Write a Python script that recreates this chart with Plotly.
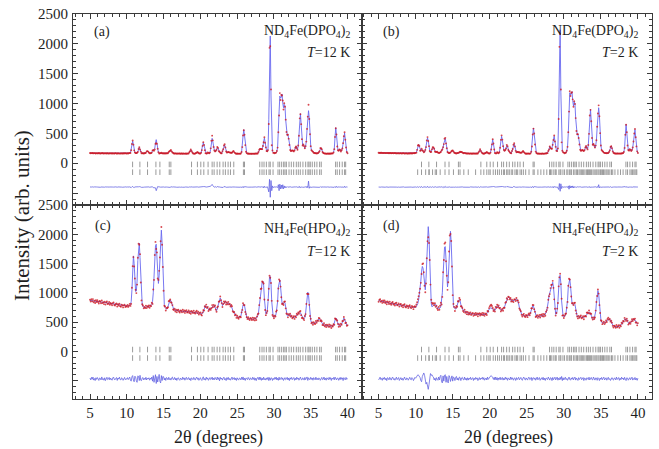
import numpy as np
import plotly.graph_objects as go

# ---------------------------------------------------------------------------
# Neutron powder diffraction, 2theta = 5.0 ... 40.0 deg in 0.1 deg steps.
# CALC_* : calculated (Rietveld) profile, RES_* : observed - calculated.
# ---------------------------------------------------------------------------
START, STEP = 5.0, 0.1

CALC_A = [
    170, 169, 169, 168, 168, 168, 167, 168, 168, 167,
    167, 167, 168, 167, 167, 166, 167, 167, 166, 166,
    166, 166, 166, 165, 166, 166, 165, 165, 166, 165,
    165, 165, 165, 165, 164, 165, 165, 164, 164, 165,
    164, 164, 164, 165, 164, 164, 164, 165, 165, 165,
    165, 165, 166, 168, 170, 177, 225, 315, 370, 315,
    225, 178, 170, 170, 172, 193, 234, 260, 234, 193,
    172, 166, 165, 165, 166, 170, 177, 194, 205, 194,
    177, 168, 166, 169, 182, 210, 227, 223, 249, 337,
    395, 333, 232, 179, 167, 166, 170, 172, 168, 165,
    164, 164, 164, 165, 165, 166, 171, 183, 200, 214,
    216, 200, 180, 168, 165, 164, 163, 163, 163, 162,
    162, 162, 162, 161, 161, 161, 161, 161, 161, 161,
    160, 160, 160, 161, 165, 180, 208, 226, 208, 180,
    165, 161, 160, 161, 167, 178, 185, 178, 167, 162,
    162, 172, 214, 295, 345, 295, 214, 172, 162, 163,
    178, 175, 166, 175, 234, 346, 417, 358, 263, 215,
    195, 200, 231, 262, 252, 206, 191, 179, 167, 163,
    197, 239, 288, 307, 261, 201, 177, 183, 190, 182,
    180, 177, 173, 176, 189, 200, 189, 172, 162, 160,
    160, 160, 160, 160, 160, 163, 185, 276, 452, 562,
    470, 300, 195, 168, 162, 160, 160, 159, 159, 159,
    159, 159, 159, 160, 160, 161, 161, 162, 167, 185,
    220, 245, 236, 230, 241, 279, 364, 420, 350, 260,
    208, 193, 250, 737, 1803, 2131, 1127, 360, 195, 184,
    172, 168, 170, 178, 200, 270, 480, 860, 1125, 1090,
    1110, 1160, 1010, 930, 985, 960, 720, 530, 470, 480,
    410, 300, 225, 200, 210, 215, 205, 200, 215, 255,
    285, 250, 230, 290, 470, 740, 830, 650, 400, 300,
    310, 290, 250, 280, 370, 560, 790, 880, 760, 480,
    290, 215, 205, 190, 175, 170, 168, 166, 166, 167,
    170, 180, 205, 245, 258, 230, 190, 170, 164, 162,
    161, 160, 160, 160, 160, 160, 160, 161, 162, 163,
    166, 178, 240, 430, 595, 470, 285, 215, 210, 230,
    220, 200, 215, 250, 330, 460, 505, 400, 260, 190,
    165,
]
RES_A = [
    2, -3, 1, 4, -2, 0, 3, -1, -4, 2,
    1, -2, 3, 0, -3, 2, -1, 4, -2, 1,
    -1, 3, -2, 1, 2, -4, 0, 2, -1, 3,
    -2, 1, 0, -3, 2, 4, -1, -2, 3, 0,
    1, -3, 2, 0, -2, 3, -1, 1, 4, -2,
    0, 2, -3, 1, 4, -5, -8, 6, 10, -4,
    -9, 3, 2, -1, 4, -6, 5, 8, -3, 2,
    -4, 1, 3, -2, 0, 2, -3, 5, -2, 1,
    3, -2, 1, 0, -4, 6, -10, -14, -20, -12,
    -60, -8, 10, 6, -3, 2, -1, 3, -2, 0,
    2, -1, 3, -2, 1, 0, -3, 4, 2, -5,
    6, -2, 1, 3, -1, -2, 2, 0, -3, 1,
    -1, 2, 0, -2, 3, 1, -3, 2, 0, -1,
    2, -1, 3, 0, -2, 4, -6, 5, -3, 1,
    0, 2, -3, 1, 4, -2, 3, -1, 0, 2,
    -1, 3, 6, -5, 8, 10, 4, -3, 1, 2,
    4, -2, 0, 3, 15, 30, 45, 25, 10, -2,
    3, 7, -4, 10, 4, -3, 2, -1, 0, 3,
    5, -6, 9, 12, 4, -3, 1, 2, -2, 0,
    1, -2, 3, -1, 2, 5, -3, 1, 0, -2,
    2, -1, 1, 0, -2, 1, 3, -6, 12, -10,
    8, 4, -3, 2, 0, -1, 2, -2, 1, 0,
    -1, 2, 1, -2, 0, 3, -1, 2, -3, 4,
    6, -4, 3, 8, -5, 10, -12, 14, -8, 5,
    -4, 6, -30, -80, 130, -170, 110, -60, 20, -10,
    3, -2, 4, 0, 5, -8, 40, -60, 50, -30,
    35, -25, 40, -30, 20, -15, 10, -6, 8, -4,
    2, 5, -3, 4, -2, 1, 3, -2, 0, 4,
    -3, 6, -4, 8, -10, 12, -8, 5, 3, -2,
    4, -3, 2, 6, -8, 15, -10, 100, -20, 6,
    -4, 3, -2, 1, 0, 2, -1, 3, -2, 1,
    0, 3, -4, 8, -6, 3, -2, 1, 2, -1,
    1, -2, 0, 3, -1, 2, -2, 1, 0, 2,
    -1, 3, -4, 10, -8, 12, -5, 3, -2, 1,
    2, -3, 4, -2, 6, -8, 15, -5, 3, -2,
    1,
]

CALC_B = [
    175, 174, 174, 173, 173, 173, 172, 172, 172, 171,
    171, 171, 171, 170, 170, 170, 170, 169, 169, 169,
    169, 169, 168, 168, 168, 168, 168, 167, 167, 167,
    167, 167, 167, 166, 166, 166, 166, 166, 165, 165,
    165, 165, 165, 165, 165, 165, 166, 167, 168, 170,
    172, 180, 220, 290, 312, 280, 215, 210, 235, 225,
    200, 185, 190, 215, 280, 370, 423, 380, 280, 210,
    185, 195, 230, 262, 268, 240, 200, 185, 190, 190,
    180, 172, 172, 178, 190, 210, 235, 260, 330, 405,
    413, 340, 245, 190, 175, 170, 172, 180, 198, 210,
    212, 198, 180, 170, 166, 166, 168, 170, 175, 182,
    188, 190, 186, 178, 172, 170, 172, 170, 166, 164,
    163, 163, 162, 162, 162, 162, 162, 162, 162, 162,
    161, 161, 161, 162, 166, 181, 209, 228, 209, 181,
    166, 162, 161, 162, 168, 178, 185, 178, 167, 163,
    163, 175, 225, 320, 395, 320, 225, 175, 164, 165,
    180, 177, 168, 180, 250, 380, 452, 385, 280, 225,
    205, 215, 250, 298, 280, 225, 200, 185, 170, 165,
    200, 245, 300, 322, 275, 210, 182, 186, 192, 184,
    182, 178, 174, 178, 190, 200, 190, 173, 163, 161,
    161, 161, 161, 161, 161, 164, 188, 285, 470, 590,
    490, 310, 198, 170, 163, 161, 161, 160, 160, 160,
    160, 160, 160, 161, 161, 162, 163, 165, 172, 200,
    225, 284, 250, 238, 250, 300, 400, 452, 370, 270,
    212, 198, 262, 780, 1890, 2236, 1180, 375, 200, 188,
    175, 170, 172, 180, 205, 280, 500, 900, 1180, 1140,
    1160, 1200, 1050, 960, 1030, 1000, 750, 545, 480, 490,
    420, 310, 230, 205, 215, 220, 210, 205, 220, 262,
    290, 255, 235, 300, 500, 790, 900, 700, 420, 310,
    320, 300, 260, 290, 390, 600, 840, 930, 800, 500,
    300, 220, 205, 190, 178, 172, 170, 168, 168, 169,
    172, 185, 215, 265, 290, 250, 200, 175, 166, 164,
    163, 162, 162, 162, 162, 162, 162, 163, 164, 166,
    170, 185, 260, 470, 650, 510, 300, 220, 212, 232,
    222, 205, 220, 265, 360, 505, 562, 440, 280, 200,
    170,
]
RES_B = [
    1, -2, 3, -1, 2, 0, -3, 2, 1, -2,
    3, -1, 0, 2, -3, 1, 2, -2, 0, 3,
    -2, 1, 3, -1, 0, -3, 2, 1, -2, 0,
    2, -3, 1, 0, 3, -2, -1, 2, 0, -1,
    -1, 2, -2, 3, 1, -3, 0, 2, -1, 1,
    2, -3, 4, 6, -5, 8, -6, 4, 10, -8,
    5, -3, 6, 8, -10, 12, 15, -8, 6, -4,
    3, -5, 4, 6, -3, 2, -4, 5, -2, 1,
    -2, 3, -1, 4, -2, 5, -6, 8, -10, 6,
    12, -8, 5, -3, 2, -1, 3, -2, 1, 0,
    2, -1, -3, 2, 1, -2, 3, 0, -1, 2,
    4, -2, 1, 3, -1, -2, 2, 0, -3, 1,
    -1, 2, 0, -2, 3, 1, -3, 2, 0, -1,
    2, -1, 3, 0, -2, 4, -6, 5, -3, 1,
    0, 2, -3, 1, 4, -2, 3, -1, 0, 2,
    -1, 3, 6, -5, 8, 10, 4, -3, 1, 2,
    4, -2, 0, 3, 8, 12, 15, 10, 6, -2,
    3, 7, -4, 10, 4, -3, 2, -1, 0, 3,
    5, -6, 9, 12, 4, -3, 1, 2, -2, 0,
    1, -2, 3, -1, 2, 5, -3, 1, 0, -2,
    2, -1, 1, 0, -2, 1, 3, -6, 12, -10,
    8, 4, -3, 2, 0, -1, 2, -2, 1, 0,
    -1, 2, 1, -2, 0, 3, -1, 2, -3, 4,
    4, -3, 5, 6, -8, 8, -10, 12, -6, 4,
    -3, 5, -15, -40, 60, -70, 55, -25, 10, -5,
    3, -2, 4, 0, 5, -6, 20, -35, 25, -15,
    18, -12, 20, -15, 10, -8, 6, -4, 5, -3,
    2, 4, -3, 3, -2, 1, 3, -2, 0, 3,
    -2, 5, -3, 6, -8, 10, -6, 4, 2, -1,
    3, -2, 2, 5, -6, 10, -8, 40, -12, 4,
    -3, 2, -1, 1, 0, 2, -1, 2, -1, 1,
    0, 2, -3, 6, -4, 2, -1, 1, 2, -1,
    1, -2, 0, 2, -1, 2, -1, 1, 0, 1,
    -1, 2, -3, 8, -6, 10, -4, 2, -1, 1,
    1, -2, 3, -1, 5, -6, 12, -4, 2, -1,
    1,
]

CALC_C = [
    870, 868, 866, 864, 862, 860, 858, 856, 854, 852,
    850, 848, 846, 844, 842, 840, 838, 836, 834, 832,
    830, 828, 826, 824, 822, 820, 818, 816, 814, 812,
    810, 808, 806, 803, 800, 798, 795, 793, 790, 788,
    786, 784, 782, 780, 778, 776, 775, 774, 773, 772,
    772, 772, 773, 775, 780, 800, 850, 1050, 1400, 1630,
    1500, 1200, 1020, 1030, 1200, 1550, 1800, 1850, 1600, 1200,
    900, 790, 760, 752, 750, 752, 755, 758, 760, 762,
    765, 768, 772, 780, 800, 850, 1000, 1280, 1600, 1800,
    1830, 1650, 1300, 1160, 1300, 1650, 1950, 2070, 1850, 1400,
    1000, 800, 750, 725, 720, 730, 770, 830, 875, 880,
    860, 810, 760, 730, 712, 705, 700, 698, 696, 694,
    692, 690, 688, 686, 685, 684, 683, 682, 681, 680,
    679, 678, 677, 676, 675, 674, 673, 672, 671, 670,
    669, 668, 667, 666, 665, 664, 662, 660, 655, 650,
    645, 640, 642, 650, 670, 715, 765, 780, 770, 750,
    740, 715, 705, 710, 722, 740, 760, 775, 782, 780,
    760, 720, 695, 720, 780, 830, 890, 910, 880, 810,
    780, 800, 825, 845, 850, 830, 815, 815, 820, 820,
    805, 790, 775, 740, 700, 670, 650, 635, 620, 600,
    590, 580, 578, 578, 585, 600, 640, 720, 790, 810,
    780, 700, 620, 580, 565, 560, 558, 555, 553, 552,
    551, 550, 550, 550, 552, 556, 565, 580, 610, 660,
    760, 930, 1040, 1100, 1180, 1200, 1130, 900, 700, 640,
    640, 700, 850, 1100, 1270, 1280, 1150, 850, 650, 590,
    580, 585, 600, 650, 720, 850, 1100, 1200, 1220, 1100,
    900, 820, 800, 820, 840, 830, 750, 650, 610, 600,
    620, 640, 625, 600, 585, 580, 578, 578, 580, 590,
    600, 615, 630, 650, 665, 670, 660, 630, 590, 560,
    550, 555, 580, 650, 800, 950, 1010, 960, 800, 620,
    530, 490, 480, 478, 478, 480, 485, 490, 500, 520,
    540, 552, 556, 545, 520, 490, 465, 455, 450, 445,
    442, 440, 438, 436, 434, 432, 430, 428, 426, 425,
    430, 440, 470, 530, 565, 560, 510, 460, 445, 440,
    440, 445, 460, 500, 550, 567, 545, 500, 465, 445,
    440,
]
RES_C = [
    12, -18, 25, -8, 30, -22, 5, -30, 18, -10,
    22, -5, -28, 15, 8, -20, 32, -12, 4, -25,
    18, -30, 10, 26, -14, -6, 24, -20, 12, -2,
    -24, 16, 30, -10, -18, 8, 22, -28, 14, -6,
    28, -12, -20, 18, 6, -26, 10, 24, -16, 2,
    -8, 20, -14, 6, 30, -24, -40, 35, 55, -20,
    -50, 45, 30, -35, -60, 50, 40, -30, 60, -25,
    -30, 15, 22, -18, 8, -12, 26, -20, 10, -4,
    18, -24, 12, -8, 30, -40, 55, -60, 45, 70,
    -80, 40, -55, 60, 75, -45, -70, 55, -30, 40,
    35, -20, 15, -28, 22, 10, -18, 26, -12, 6,
    -22, 18, 30, -14, -6, 24, -20, 12, -28, 8,
    20, -10, -26, 14, 4, -18, 28, -8, 16, -24,
    10, 26, -14, -4, 22, -20, 8, -30, 18, 2,
    -16, 24, -8, -22, 12, 30, -10, 16, -26, 6,
    20, -12, -28, 14, 34, -18, 6, -24, 28, -8,
    16, -26, 10, 22, -14, -4, 30, -20, 12, -16,
    24, -8, -20, 30, -12, 18, -34, 26, -6, 14,
    -22, 8, 28, -16, 4, -30, 20, -10, 24, -18,
    6, -24, 16, 30, -14, -4, 22, -20, 10, -28,
    18, -6, -22, 14, 8, -18, 26, -12, 32, -20,
    10, -28, 16, 4, -14, 24, -8, -22, 18, 6,
    -16, 26, -10, 20, -24, 8, -30, 14, 22, -12,
    30, -18, 24, -26, 12, -20, 28, -14, 6, -22,
    16, -10, 26, -30, 20, -24, 18, 12, -28, 8,
    -14, 22, -6, 30, -20, 10, -26, 28, -18, 6,
    24, -12, 16, -28, 8, 20, -16, -4, 26, -20,
    12, -30, 18, -8, 24, -14, 4, 22, -26, 10,
    -18, 28, -6, 14, -24, 8, 30, -12, -20, 16,
    6, -22, 24, -14, 10, 32, -28, 18, -6, -16,
    26, -10, 14, -24, 20, -4, -18, 28, -12, 8,
    -20, 16, 6, -26, 12, 24, -14, -8, 30, -18,
    10, -24, 18, 4, -16, 26, -10, 20, -28, 12,
    -6, 22, -18, 30, -12, -20, 14, 8, -26, 18,
    -14, 26, -8, 16, -30, 20, -4, -18, 24, -10,
    6,
]

CALC_D = [
    867, 865, 862, 859, 856, 853, 850, 847, 844, 841,
    838, 835, 832, 829, 826, 823, 820, 817, 815, 813,
    811, 809, 807, 805, 802, 800, 797, 795, 792, 790,
    788, 785, 782, 780, 777, 775, 772, 770, 768, 766,
    764, 762, 760, 758, 756, 754, 752, 750, 748, 746,
    750, 770, 790, 820, 880, 960, 1050, 1200, 1370, 1450,
    1420, 1250, 1060, 1050, 1250, 1650, 2000, 2130, 1950, 1500,
    1050, 820, 760, 770, 790, 805, 810, 790, 760, 740,
    730, 728, 730, 740, 770, 850, 1000, 1300, 1600, 1780,
    1790, 1600, 1250, 1100, 1250, 1650, 1950, 2050, 1850, 1400,
    1000, 780, 740, 720, 720, 735, 780, 840, 875, 880,
    860, 800, 750, 715, 700, 690, 680, 672, 665, 660,
    655, 650, 646, 642, 640, 638, 636, 635, 634, 633,
    632, 631, 630, 630, 630, 630, 630, 630, 630, 630,
    630, 630, 630, 630, 630, 632, 640, 660, 690, 720,
    735, 740, 740, 735, 720, 700, 690, 700, 730, 760,
    775, 780, 770, 745, 715, 700, 700, 705, 715, 735,
    760, 800, 850, 890, 910, 920, 922, 910, 880, 862,
    858, 860, 865, 872, 880, 888, 890, 885, 860, 810,
    750, 700, 660, 635, 620, 612, 610, 608, 606, 605,
    605, 606, 610, 618, 630, 660, 710, 765, 780, 770,
    730, 660, 610, 592, 588, 590, 595, 600, 605, 608,
    610, 610, 612, 615, 622, 635, 660, 700, 760, 850,
    950, 1000, 1060, 1120, 1170, 1180, 1100, 880, 700, 630,
    640, 700, 850, 1100, 1280, 1300, 1160, 860, 640, 600,
    590, 595, 610, 660, 740, 870, 1100, 1210, 1236, 1120,
    920, 830, 800, 810, 815, 800, 720, 630, 600, 590,
    585, 585, 585, 585, 582, 580, 578, 578, 585, 600,
    620, 640, 655, 665, 670, 665, 645, 615, 585, 560,
    550, 560, 600, 680, 830, 970, 1037, 980, 820, 640,
    540, 495, 480, 478, 480, 485, 495, 510, 525, 540,
    548, 552, 550, 535, 505, 470, 445, 430, 422, 420,
    420, 420, 421, 422, 424, 428, 435, 445, 460, 480,
    505, 530, 545, 550, 550, 540, 510, 480, 470, 475,
    485, 500, 520, 540, 550, 550, 535, 510, 485, 470,
    470,
]
RES_D = [
    -20, 14, 28, -12, 6, -26, 18, -8, 24, -16,
    10, -30, 20, 8, -18, 26, -6, -22, 14, 30,
    -12, 4, -24, 18, 28, -14, -4, 22, -28, 12,
    20, -16, 8, -26, 14, 30, -10, -20, 16, 6,
    -24, 12, 26, -8, -18, 20, 6, -30, 14, 24,
    10, 30, 50, 70, 60, 40, 20, -30, -50, 40,
    80, 100, 60, -40, -90, -60, -120, -180, -100, 60,
    90, 60, 70, 40, 30, -20, 10, -30, 20, -10,
    -25, 30, -20, 40, 60, -50, -70, 50, -40, 60,
    70, -60, 40, -50, -70, 55, 30, -45, 35, 50,
    -40, 30, 20, -30, 25, 40, -20, 15, -25, 30,
    20, -30, 15, 25, -10, -20, 30, -15, 10, -25,
    18, -22, 12, -8, 26, -16, 4, 20, -28, 10,
    -14, 24, -6, 16, -30, 8, 22, -18, 12, -4,
    26, -12, 20, -24, 6, 14, -20, 30, -10, 18,
    30, 45, 55, 40, 20, -10, 25, -20, 30, -15,
    20, -25, 14, -10, 28, -18, 6, 24, -22, 10,
    -16, 28, -8, 18, -26, 12, 4, -20, 30, -12,
    22, -6, -24, 16, 8, -28, 20, -14, 10, 26,
    -18, 6, 24, -12, -26, 14, 30, -8, -20, 16,
    4, -22, 18, 28, -14, -6, 24, -30, 12, 20,
    -10, 16, -24, 8, 30, -18, 6, 22, -26, 14,
    18, -12, 26, -20, 10, -28, 16, 4, -14, 30,
    -8, -22, 20, 12, -30, 24, -16, 8, 28, -20,
    14, 30, -24, 10, -16, 26, -12, 40, -30, 18,
    -20, 12, 28, -14, 6, -26, 20, 30, -10, -24,
    16, -8, 24, -18, 10, 30, -22, 14, -6, -28,
    20, -12, 8, 26, -16, -4, 22, -30, 12, 6,
    -24, 18, 10, -14, 28, -20, 4, 24, -12, -18,
    30, -8, -22, 16, 12, -26, 20, 6, -30, 14,
    -10, 24, -16, 8, 28, -20, -6, 18, -24, 12,
    26, -14, 4, -28, 16, 20, -10, -22, 14, 8,
    -18, 30, -12, 6, 22, -26, 10, -16, 28, -4,
    14, -20, 26, -8, -30, 18, 12, -24, 6, 20,
    -16, 10, 28, -22, 4, -12, 24, -18, 8, -26,
    12,
]

# Bragg reflection positions (deg 2theta)
NUCLEAR_POS = [
    10.79, 11.78, 12.82, 13.96, 14.5, 15.77, 15.99, 18.8, 19.6, 20.06,
    20.47, 21.05, 21.6, 21.87, 22.28, 22.64, 23.09, 23.4, 23.77, 24.09,
    24.54, 25.85, 26.0, 28.07, 28.38, 28.65, 28.97, 29.33, 29.5, 29.88,
    30.55, 30.78, 31.05, 31.32, 31.5, 31.69, 32.05, 32.36, 32.68, 33.04,
    33.31, 33.58, 33.94, 34.31, 34.62, 34.76, 34.94, 35.21, 35.53, 35.84,
    36.21, 36.43, 38.38, 38.6, 38.92, 39.28, 39.6, 39.75,
]
MAGNETIC_POS = [
    10.27, 11.35, 11.84, 12.28, 12.64, 13.31, 15.1, 16.5, 17.1, 18.09,
    19.2, 19.88, 20.77, 21.3, 22.0, 22.45, 22.9, 23.6, 24.3, 24.85,
    25.3, 26.5, 26.9, 27.3, 27.7, 28.2, 28.85, 29.6, 30.1, 30.4,
    30.95, 31.85, 32.2, 32.5, 32.85, 33.2, 33.45, 33.75, 34.1, 34.45,
    35.05, 35.35, 35.7, 36.0, 36.6, 36.9, 37.3, 37.65, 38.0, 39.1,
    39.45, 39.85,
]

PANEL_TAGS = ["(a)", "(b)", "(c)", "(d)"]
COMPOUNDS = [
    "ND<sub>4</sub>Fe(DPO<sub>4</sub>)<sub>2</sub>",
    "ND<sub>4</sub>Fe(DPO<sub>4</sub>)<sub>2</sub>",
    "NH<sub>4</sub>Fe(HPO<sub>4</sub>)<sub>2</sub>",
    "NH<sub>4</sub>Fe(HPO<sub>4</sub>)<sub>2</sub>",
]
TEMPS = ["<i>T</i>=12 K", "<i>T</i>=2 K", "<i>T</i>=12 K", "<i>T</i>=2 K"]
X_TITLE = "2\u03b8 (degrees)"
Y_TITLE = "Intensity (arb. units)"

# ---------------------------------------------------------------------------
SERIF = "Liberation Serif, Times New Roman, Times, serif"
INK = "#1e1e1e"
AX = "#3a3a3a"
OBS_COLOR = "rgba(205,25,35,0.8)"
CALC_COLOR = "rgba(105,105,240,0.9)"
DIFF_COLOR = "rgba(95,95,225,0.85)"
TICK_COLOR = "#9a9a9a"

W, H = 659, 449
ML, MR, MT, MB = 73, 6, 12, 50
PW, PH = W - ML - MR, H - MT - MB


def px(x):
    return (x - ML) / PW


def py(y):
    return 1 - (y - MT) / PH


XSPLIT = px(362)
YSPLIT = py(204)

panels = [
    dict(calc=CALC_A, res=RES_A, off=-400, rows=(-20, -150), mag=False, col=0, row=0),
    dict(calc=CALC_B, res=RES_B, off=-400, rows=(-20, -150), mag=True, col=1, row=0),
    dict(calc=CALC_C, res=RES_C, off=-470, rows=(30, -115), mag=False, col=0, row=1),
    dict(calc=CALC_D, res=RES_D, off=-470, rows=(30, -115), mag=True, col=1, row=1),
]

fig = go.Figure()
layout = dict(
    width=W, height=H,
    margin=dict(l=ML, r=MR, t=MT, b=MB, pad=0),
    paper_bgcolor="white", plot_bgcolor="white",
    showlegend=False,
    font=dict(family=SERIF, color=INK),
)

for i, p in enumerate(panels):
    calc = np.array(p["calc"], dtype=float)
    res = np.array(p["res"], dtype=float)
    assert len(calc) == 351 and len(res) == 351, (i, len(calc), len(res))
    tth = START + STEP * np.arange(len(calc))
    obs = calc + res
    xa = "x" if i == 0 else f"x{i + 1}"
    ya = "y" if i == 0 else f"y{i + 1}"

    fig.add_trace(go.Scatter(x=tth, y=calc, mode="lines", xaxis=xa, yaxis=ya,
                             line=dict(color=CALC_COLOR, width=1)))
    fig.add_trace(go.Scatter(x=tth, y=obs, mode="markers", xaxis=xa, yaxis=ya,
                             marker=dict(color=OBS_COLOR, size=1.9, line=dict(width=0))))
    fig.add_trace(go.Scatter(x=tth, y=obs - calc + p["off"], mode="lines", xaxis=xa, yaxis=ya,
                             line=dict(color=DIFF_COLOR, width=0.9)))

    row1 = NUCLEAR_POS
    row2 = sorted(NUCLEAR_POS + MAGNETIC_POS) if p["mag"] else NUCLEAR_POS
    for pos, yv in ((row1, p["rows"][0]), (row2, p["rows"][1])):
        fig.add_trace(go.Scatter(x=pos, y=[yv] * len(pos), mode="markers", xaxis=xa, yaxis=ya,
                                 marker=dict(symbol="line-ns", size=4,
                                             line=dict(width=1, color=TICK_COLOR))))

    xdom = [0, XSPLIT] if p["col"] == 0 else [XSPLIT, 1]
    ydom = [YSPLIT, 1] if p["row"] == 0 else [0, YSPLIT]
    yrange = [-700, 2500] if p["row"] == 0 else [-815, 2500]

    key_x = "xaxis" if i == 0 else f"xaxis{i + 1}"
    key_y = "yaxis" if i == 0 else f"yaxis{i + 1}"
    layout[key_x] = dict(
        domain=xdom, range=[2.69, 41.9], anchor=ya,
        showline=True, linecolor=AX, linewidth=1, mirror="allticks",
        ticks="inside", ticklen=5, tickwidth=1, tickcolor=AX,
        tickmode="linear", tick0=0, dtick=5,
        minor=dict(ticks="inside", ticklen=3, tickcolor=AX, tickmode="linear", tick0=0, dtick=1),
        showticklabels=(p["row"] == 1),
        tickfont=dict(family=SERIF, size=15, color=INK),
        showgrid=False, zeroline=False,
    )
    layout[key_y] = dict(
        domain=ydom, range=yrange, anchor=xa,
        showline=True, linecolor=AX, linewidth=1, mirror="allticks",
        ticks="inside", ticklen=5, tickwidth=1, tickcolor=AX,
        tickmode="array", tickvals=[-500, 0, 500, 1000, 1500, 2000, 2500],
        ticktext=["", "0", "500", "1000", "1500", "2000", "2500"],
        minor=dict(ticks="inside", ticklen=3, tickcolor=AX, tickmode="linear", tick0=0, dtick=100),
        showticklabels=(p["col"] == 0),
        ticklabelstandoff=1,
        tickfont=dict(family=SERIF, size=15, color=INK),
        showgrid=False, zeroline=False,
    )

fig.update_layout(**layout)

# panel tags, compound names and temperatures (pixel anchors converted to paper)
tag_xy = [(102, 30), (392, 30), (103, 225), (392, 225)]
name_xy = [(352, 30), (641, 30), (352, 229), (641, 229)]
temp_xy = [(352, 51), (641, 51), (352, 251), (641, 251)]
for i in range(4):
    fig.add_annotation(x=px(tag_xy[i][0]), y=py(tag_xy[i][1]), xref="paper", yref="paper",
                       text=PANEL_TAGS[i], showarrow=False, xanchor="center", yanchor="middle",
                       font=dict(family=SERIF, size=14, color=INK))
    fig.add_annotation(x=px(name_xy[i][0]), y=py(name_xy[i][1]), xref="paper", yref="paper",
                       text=COMPOUNDS[i], showarrow=False, xanchor="right", yanchor="middle",
                       font=dict(family=SERIF, size=14, color=INK))
    fig.add_annotation(x=px(temp_xy[i][0]), y=py(temp_xy[i][1]), xref="paper", yref="paper",
                       text=TEMPS[i], showarrow=False, xanchor="right", yanchor="middle",
                       font=dict(family=SERIF, size=14, color=INK))

for cx in (219, 509):
    fig.add_annotation(x=px(cx), y=py(438), xref="paper", yref="paper", text=X_TITLE,
                       showarrow=False, xanchor="center", yanchor="middle",
                       font=dict(family=SERIF, size=18, color=INK))
fig.add_annotation(x=px(22), y=py(215), xref="paper", yref="paper", text=Y_TITLE,
                   showarrow=False, textangle=-90, xanchor="center", yanchor="middle",
                   font=dict(family=SERIF, size=21, color=INK))

fig.write_html("out.html")
